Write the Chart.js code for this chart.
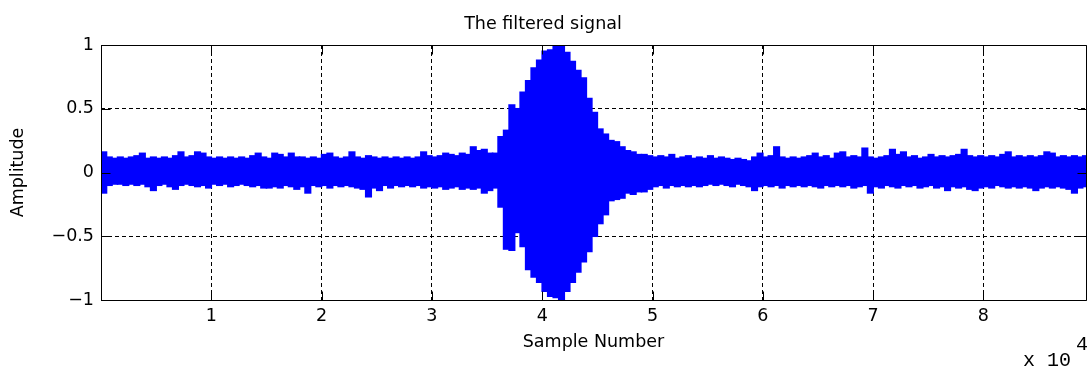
<!DOCTYPE html>
<html><head><meta charset="utf-8">
<script src="https://cdn.jsdelivr.net/npm/chart.js@4/dist/chart.umd.min.js"></script>
<style>html,body{margin:0;padding:0;background:#fff;overflow:hidden}#wrap{width:1088px;height:370px}</style>
</head><body><div id="wrap"><canvas id="c" width="1088" height="370"></canvas></div>
<script>
// ---- chart text ----
const titleText = 'The filtered signal';
const xLabel = 'Sample Number';
const yLabel = 'Amplitude';
const xExponent = 'x 10';
const xExponentPower = '4';

// ---- axes ----
const xMax = 89300;                 // last sample number
const xTicks = [10000, 20000, 30000, 40000, 50000, 60000, 70000, 80000];
const yTicks = [-1, -0.5, 0, 0.5, 1];

// ---- signal envelope (one bin = 500 samples) ----
const binSize = 500;
const upper = [
 .16,.12,.11,.12,.11,.12,.13,.15,.11,.12,
 .11,.12,.11,.13,.16,.12,.13,.16,.15,.12,
 .11,.12,.11,.12,.11,.12,.11,.13,.15,.12,
 .11,.15,.14,.12,.15,.12,.12,.11,.12,.11,
 .14,.15,.12,.11,.12,.16,.12,.11,.13,.12,
 .11,.12,.11,.12,.11,.12,.11,.12,.16,.13,
 .12,.13,.15,.14,.13,.15,.14,.20,.17,.18,
 .15,.15,.28,.33,.53,.50,.63,.72,.82,.88,
 .95,.96,1.0,1.0,.94,.87,.80,.74,.58,.47,
 .34,.30,.25,.24,.20,.17,.16,.14,.14,.13,
 .12,.13,.12,.14,.11,.12,.13,.11,.12,.11,
 .13,.11,.12,.11,.10,.11,.10,.09,.12,.15,
 .12,.13,.20,.12,.11,.12,.11,.12,.13,.15,
 .12,.13,.11,.15,.16,.12,.13,.12,.19,.12,
 .11,.12,.13,.18,.14,.16,.12,.13,.11,.12,
 .14,.12,.13,.12,.13,.14,.18,.13,.12,.13,
 .12,.13,.12,.14,.16,.12,.13,.12,.13,.12,
 .13,.16,.15,.12,.13,.12,.13,.12,.13
];
const lower = [
 -.16,-.10,-.09,-.09,-.10,-.09,-.10,-.09,-.11,-.14,
 -.10,-.09,-.11,-.13,-.10,-.09,-.10,-.11,-.10,-.12,
 -.09,-.10,-.09,-.11,-.10,-.09,-.10,-.11,-.10,-.12,
 -.12,-.11,-.12,-.10,-.11,-.13,-.11,-.16,-.10,-.11,
 -.10,-.12,-.10,-.11,-.10,-.11,-.12,-.13,-.19,-.12,
 -.14,-.10,-.12,-.10,-.11,-.10,-.11,-.10,-.12,-.11,
 -.12,-.11,-.13,-.12,-.11,-.13,-.12,-.13,-.12,-.16,
 -.14,-.12,-.27,-.60,-.61,-.47,-.58,-.76,-.82,-.86,
 -.93,-.97,-.98,-1.0,-.93,-.86,-.78,-.70,-.62,-.50,
 -.40,-.33,-.22,-.21,-.20,-.16,-.17,-.15,-.15,-.13,
 -.11,-.10,-.12,-.10,-.11,-.10,-.11,-.10,-.11,-.10,
 -.09,-.10,-.09,-.10,-.11,-.09,-.10,-.11,-.14,-.11,
 -.10,-.11,-.10,-.12,-.10,-.11,-.10,-.11,-.10,-.11,
 -.12,-.10,-.11,-.10,-.11,-.10,-.12,-.11,-.10,-.16,
 -.11,-.12,-.10,-.11,-.12,-.10,-.11,-.10,-.12,-.11,
 -.10,-.12,-.11,-.14,-.11,-.12,-.11,-.13,-.14,-.12,
 -.11,-.12,-.10,-.11,-.12,-.11,-.12,-.11,-.12,-.14,
 -.12,-.11,-.12,-.11,-.12,-.13,-.16,-.12,-.11
];

const FONT = 'DejaVu Sans';
const FS = 17.5;
Chart.defaults.font.family = FONT;
Chart.defaults.font.size = FS;
Chart.defaults.color = '#000';

const points = upper.map((u, i) => ({ x: (i + 0.5) * binSize, y: [lower[i], u] }));

const matlabFrame = {
  id: 'matlabFrame',
  afterDatasetsDraw(chart) {
    const { ctx, chartArea: a, scales: { x, y } } = chart;
    const L = a.left + 0.5, R = a.right + 0.5, T = a.top + 0.5, B = a.bottom + 0.5;
    const tl = 9;
    ctx.save();
    ctx.setLineDash([]);
    ctx.strokeStyle = '#000';
    ctx.lineWidth = 1;
    ctx.beginPath();
    ctx.rect(L, T, R - L, B - T);
    x.ticks.forEach(t => {
      const px = Math.round(x.getPixelForValue(t.value)) + 0.5;
      ctx.moveTo(px, B); ctx.lineTo(px, B - tl);
      ctx.moveTo(px, T); ctx.lineTo(px, T + tl);
    });
    y.ticks.forEach(t => {
      const py = Math.round(y.getPixelForValue(t.value)) + 0.5;
      ctx.moveTo(L, py); ctx.lineTo(L + tl, py);
      ctx.moveTo(R, py); ctx.lineTo(R - tl, py);
    });
    ctx.stroke();
    // axis exponent label
    ctx.fillStyle = '#000';
    ctx.textBaseline = 'alphabetic';
    ctx.textAlign = 'left';
    ctx.font = '20px "Liberation Mono"';
    ctx.fillText(xExponent, 1023, 366);
    ctx.fillText(xExponentPower, 1076, 350);
    ctx.restore();
  }
};

const tickFont = { family: FONT, size: FS };
const fmtY = v => (v < 0 ? '\u2212' : '') + String(Math.abs(v));

new Chart(document.getElementById('c'), {
  type: 'bar',
  data: {
    datasets: [{
      data: points,
      backgroundColor: '#0000ff',
      borderWidth: 0,
      inflateAmount: 0.8,
      barPercentage: 1,
      categoryPercentage: 1,
      grouped: false
    }]
  },
  options: {
    responsive: false,
    animation: false,
    devicePixelRatio: 1,
    layout: { padding: { left: 0, right: 2, top: 0, bottom: 0 } },
    plugins: {
      legend: { display: false },
      tooltip: { enabled: false },
      title: {
        display: true, text: titleText, color: '#000',
        font: { family: FONT, size: FS, weight: 'normal' },
        padding: { top: 14, bottom: 10 }
      }
    },
    scales: {
      x: {
        type: 'linear', min: 0, max: xMax, offset: false,
        afterBuildTicks: s => { s.ticks = xTicks.map(v => ({ value: v })); },
        afterFit: s => { s.height = 70; },
        ticks: { callback: v => String(v / 1e4), font: tickFont, padding: 6, maxRotation: 0, autoSkip: false, color: '#000' },
        grid: { color: '#000', lineWidth: 1, drawTicks: false, offset: false },
        border: { display: false, dash: [4, 3] },
        title: { display: true, text: xLabel, color: '#000', font: tickFont, padding: { top: 0, bottom: 17 } }
      },
      y: {
        min: -1, max: 1,
        afterBuildTicks: s => { s.ticks = yTicks.map(v => ({ value: v })); },
        afterFit: s => { s.width = 101; },
        ticks: { callback: v => fmtY(v), font: tickFont, padding: 7, color: '#000' },
        grid: { color: '#000', lineWidth: 1, drawTicks: false },
        border: { display: false, dash: [4, 3] },
        title: { display: true, text: yLabel, color: '#000', font: tickFont, padding: { top: 7.5, bottom: 0 } }
      }
    }
  },
  plugins: [matlabFrame]
});
</script>
</body></html>
